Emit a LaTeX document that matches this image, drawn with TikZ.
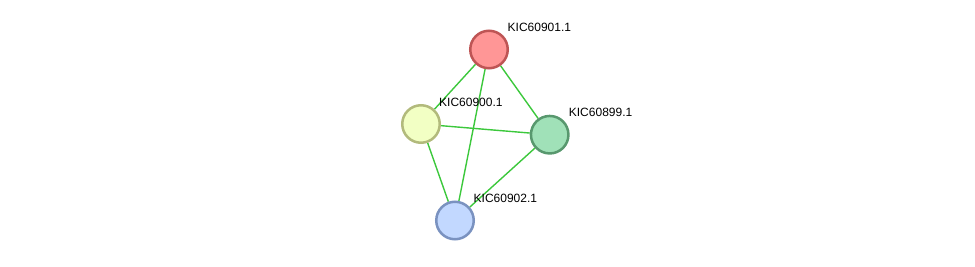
\documentclass[tikz,border=0pt]{standalone}
\usepackage{fontspec}
\setmainfont{Liberation Sans}
\usetikzlibrary{positioning,backgrounds}
\definecolor{edgegreen}{RGB}{60,200,60}
\definecolor{redfill}{RGB}{255,150,150}
\definecolor{redline}{RGB}{190,85,85}
\definecolor{yelfill}{RGB}{242,255,196}
\definecolor{yelline}{RGB}{178,186,124}
\definecolor{grnfill}{RGB}{160,225,184}
\definecolor{grnline}{RGB}{88,152,110}
\definecolor{blufill}{RGB}{194,216,255}
\definecolor{bluline}{RGB}{122,146,192}

\begin{document}
\begin{tikzpicture}[x=1pt, y=1pt, every node/.style={font=\fontsize{12}{14}\selectfont},
	prot/.style={circle, minimum size=37.5pt, inner sep=0pt, line width=2.5pt},
	lbl/.style={anchor=base west, inner sep=0pt},
	link/.style={edgegreen, line width=1.4pt}]
	\useasboundingbox (0,0) rectangle (975,266);
	\node[prot, fill=redfill, draw=redline] (p901) at (489,216.5) {};
	\node[prot, fill=yelfill, draw=yelline] (p900) at (421,142) {};
	\node[prot, fill=grnfill, draw=grnline] (p899) at (549.7,131.3) {};
	\node[prot, fill=blufill, draw=bluline] (p902) at (455,45.5) {};
	% edges
	\begin{scope}[on background layer]
		\draw[link] (p901) -- (p900);
		\draw[link] (p901) -- (p899);
		\draw[link] (p901) -- (p902);
		\draw[link] (p900) -- (p899);
		\draw[link] (p900) -- (p902);
		\draw[link] (p899) -- (p902);
	\end{scope}
	\node[lbl] (l901) at ([shift={(18.5,18)}]p901.center) {KIC60901.1};
	\node[lbl] (l900) at ([shift={(18,18)}]p900.center) {KIC60900.1};
	\node[lbl] (l899) at ([shift={(19,18)}]p899.center) {KIC60899.1};
	\node[lbl] (l902) at ([shift={(18.5,18)}]p902.center) {KIC60902.1};
\end{tikzpicture}
\end{document}
